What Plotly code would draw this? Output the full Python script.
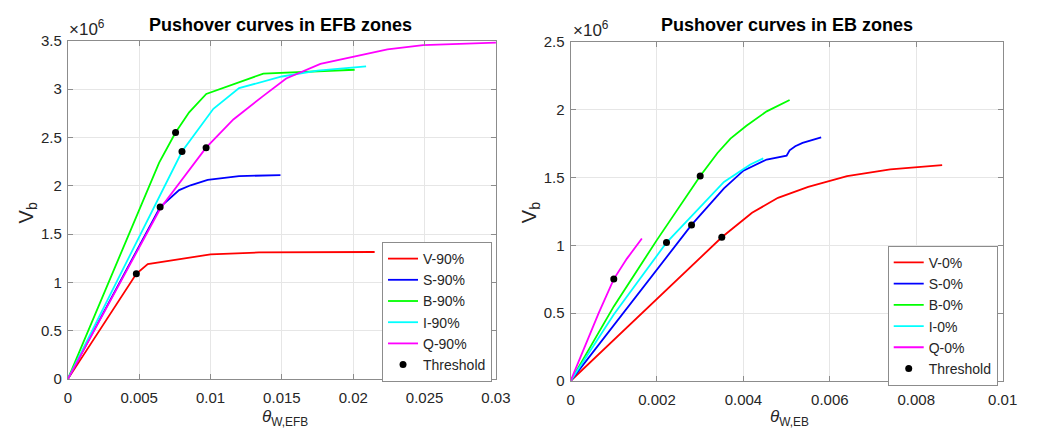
import plotly.graph_objects as go

# ---------------- EFB zones (90%) ----------------
theta_V90 = [0, 0.0048, 0.0056, 0.0086, 0.0100, 0.0134, 0.0215]
vb_V90 = [0, 1.09, 1.19, 1.26, 1.29, 1.31, 1.315]

theta_S90 = [0, 0.00647, 0.0078, 0.0086, 0.0098, 0.0120, 0.0149]
vb_S90 = [0, 1.78, 1.955, 2.005, 2.06, 2.10, 2.11]

theta_B90 = [0, 0.0064, 0.00755, 0.0085, 0.0097, 0.0137, 0.0201]
vb_B90 = [0, 2.24, 2.55, 2.76, 2.95, 3.16, 3.20]

theta_I90 = [0, 0.0080, 0.0102, 0.0120, 0.0150, 0.0175, 0.0209]
vb_I90 = [0, 2.354, 2.796, 3.01, 3.13, 3.19, 3.235]

theta_Q90 = [0, 0.0065, 0.00969, 0.0116, 0.0137, 0.0153, 0.0177, 0.0224, 0.0249, 0.0300]
vb_Q90 = [0, 1.77, 2.394, 2.686, 2.93, 3.11, 3.26, 3.41, 3.455, 3.48]

thr_theta_EFB = [0.0048, 0.00647, 0.00755, 0.0080, 0.00969]
thr_vb_EFB = [1.09, 1.78, 2.55, 2.354, 2.394]

# ---------------- EB zones (0%) ----------------
theta_V0 = [0, 0.0035, 0.0042, 0.0048, 0.0055, 0.0064, 0.0074, 0.0086]
vb_V0 = [0, 1.059, 1.24, 1.35, 1.43, 1.51, 1.56, 1.59]

theta_S0 = [0, 0.0028, 0.00355, 0.0040, 0.00454, 0.0050, 0.00507, 0.0052, 0.00537, 0.0058]
vb_S0 = [0, 1.15, 1.42, 1.55, 1.632, 1.66, 1.70, 1.73, 1.755, 1.795]

theta_B0 = [0, 0.0010, 0.0020, 0.0030, 0.0034, 0.0037, 0.00407, 0.00454, 0.00507]
vb_B0 = [0, 0.55, 1.04, 1.51, 1.68, 1.786, 1.881, 1.987, 2.07]

theta_I0 = [0, 0.0010, 0.00222, 0.0029, 0.0031, 0.00355, 0.00416, 0.00446]
vb_I0 = [0, 0.49, 1.02, 1.25, 1.32, 1.467, 1.595, 1.64]

theta_Q0 = [0, 0.00065, 0.0010, 0.0013, 0.00165]
vb_Q0 = [0, 0.50, 0.751, 0.90, 1.05]

thr_theta_EB = [0.0035, 0.0028, 0.0030, 0.00222, 0.0010]
thr_vb_EB = [1.059, 1.15, 1.51, 1.02, 0.751]

SCALE = 1e6
colors = {"V": "#FF0000", "S": "#0000FF", "B": "#00FF00", "I": "#00FFFF", "Q": "#FF00FF"}

efb = [("V-90%", theta_V90, vb_V90, "V"), ("S-90%", theta_S90, vb_S90, "S"),
       ("B-90%", theta_B90, vb_B90, "B"), ("I-90%", theta_I90, vb_I90, "I"),
       ("Q-90%", theta_Q90, vb_Q90, "Q")]
eb = [("V-0%", theta_V0, vb_V0, "V"), ("S-0%", theta_S0, vb_S0, "S"),
      ("B-0%", theta_B0, vb_B0, "B"), ("I-0%", theta_I0, vb_I0, "I"),
      ("Q-0%", theta_Q0, vb_Q0, "Q")]

fig = go.Figure()

for name, th, vb, key in efb:
    fig.add_trace(go.Scatter(x=th, y=[v * SCALE for v in vb], mode="lines", name=name,
                             line=dict(color=colors[key], width=1.8),
                             xaxis="x", yaxis="y", legend="legend"))
fig.add_trace(go.Scatter(x=thr_theta_EFB, y=[v * SCALE for v in thr_vb_EFB], mode="markers",
                         name="Threshold", marker=dict(color="black", size=7),
                         xaxis="x", yaxis="y", legend="legend"))

for name, th, vb, key in eb:
    fig.add_trace(go.Scatter(x=th, y=[v * SCALE for v in vb], mode="lines", name=name,
                             line=dict(color=colors[key], width=1.8),
                             xaxis="x2", yaxis="y2", legend="legend2"))
fig.add_trace(go.Scatter(x=thr_theta_EB, y=[v * SCALE for v in thr_vb_EB], mode="markers",
                         name="Threshold", marker=dict(color="black", size=7),
                         xaxis="x2", yaxis="y2", legend="legend2"))

FONT = "Liberation Sans, Arial, Helvetica, sans-serif"
TXT = "#262626"
axis_common = dict(showline=True, linecolor="#8c8c8c", linewidth=1, mirror="ticks",
                   ticks="inside", ticklen=5, tickcolor="#8c8c8c",
                   showgrid=True, gridcolor="#e6e6e6", gridwidth=1, zeroline=False,
                   tickfont=dict(family=FONT, size=15, color=TXT))

W, H = 1052, 440
def px_x(p):
    return p / W
def px_y(p):
    return 1 - p / H

y1_ticks = [0, 0.5, 1, 1.5, 2, 2.5, 3, 3.5]
y2_ticks = [0, 0.5, 1, 1.5, 2, 2.5]

legend_style = dict(xanchor="right", yanchor="bottom",
                    bgcolor="white", bordercolor="#8c8c8c", borderwidth=1,
                    font=dict(family=FONT, size=14, color=TXT), itemwidth=30,
                    tracegroupgap=0)

fig.update_layout(
    width=W, height=H,
    margin=dict(l=0, r=0, t=0, b=0),
    paper_bgcolor="white", plot_bgcolor="white",
    font=dict(family=FONT, color=TXT),
    xaxis=dict(axis_common, domain=[px_x(65), px_x(501)], range=[0, 0.03],
               tickvals=[0, 0.005, 0.01, 0.015, 0.02, 0.025, 0.03],
               ticktext=["0", "0.005", "0.01", "0.015", "0.02", "0.025", "0.03"],
               ticklabelstandoff=5, anchor="y"),
    yaxis=dict(axis_common, domain=[px_y(385), px_y(33)], range=[0, 3.5 * SCALE],
               tickvals=[t * SCALE for t in y1_ticks],
               ticktext=["0", "0.5", "1", "1.5", "2", "2.5", "3", "3.5"],
               ticklabelstandoff=2, anchor="x"),
    xaxis2=dict(axis_common, domain=[px_x(577), px_x(1017)], range=[0, 0.01],
                tickvals=[0, 0.002, 0.004, 0.006, 0.008, 0.01],
                ticktext=["0", "0.002", "0.004", "0.006", "0.008", "0.01"],
                ticklabelstandoff=5, anchor="y2"),
    yaxis2=dict(axis_common, domain=[px_y(387), px_y(34)], range=[0, 2.5 * SCALE],
                tickvals=[t * SCALE for t in y2_ticks],
                ticktext=["0", "0.5", "1", "1.5", "2", "2.5"],
                ticklabelstandoff=2, anchor="x2"),
    legend=dict(legend_style, x=px_x(497), y=px_y(388)),
    legend2=dict(legend_style, x=px_x(1012), y=px_y(392)),
)

annotations = [
    dict(text="<b>Pushover curves in EFB zones</b>", x=px_x(282), y=px_y(17),
         font=dict(size=18, color="black")),
    dict(text="<b>Pushover curves in EB zones</b>", x=px_x(797), y=px_y(17),
         font=dict(size=18, color="black")),
    dict(text="×10<sup>6</sup>", x=px_x(64), y=px_y(20), xanchor="left",
         font=dict(size=17, color=TXT)),
    dict(text="×10<sup>6</sup>", x=px_x(577), y=px_y(21), xanchor="left",
         font=dict(size=17, color=TXT)),
    dict(text="V<sub>b</sub>", x=px_x(24), y=px_y(212), textangle=-90,
         font=dict(size=20, color=TXT)),
    dict(text="V<sub>b</sub>", x=px_x(536), y=px_y(212), textangle=-90,
         font=dict(size=20, color=TXT)),
    dict(text="<i>θ</i><sub>W,EFB</sub>", x=px_x(286), y=px_y(425),
         font=dict(size=17, color=TXT)),
    dict(text="<i>θ</i><sub>W,EB</sub>", x=px_x(800), y=px_y(425),
         font=dict(size=17, color=TXT)),
]
for a in annotations:
    a.update(xref="paper", yref="paper", showarrow=False)
    a.setdefault("xanchor", "center")
    a.setdefault("yanchor", "middle")
fig.update_layout(annotations=annotations)

fig.write_html("out.html")
